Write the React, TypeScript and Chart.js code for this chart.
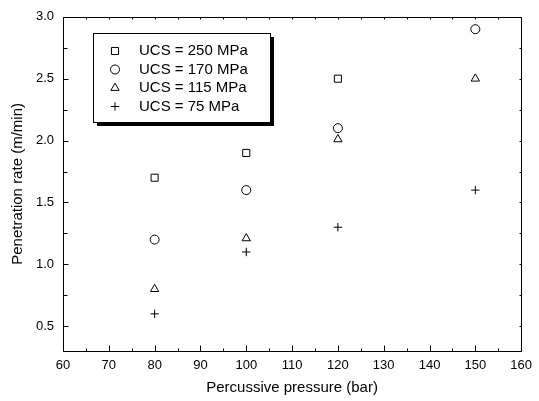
import React, { useEffect, useRef } from "react";
import { Chart, registerables } from "chart.js";

Chart.register(...registerables);

const pressures = [80, 100, 120, 150];
const ucs250 = [1.7, 1.9, 2.5, null];
const ucs170 = [1.2, 1.6, 2.1, 2.9];
const ucs115 = [0.8, 1.21, 2.01, 2.5];
const ucs75 = [0.6, 1.1, 1.3, 1.6];
const seriesLabels = ["UCS = 250 MPa", "UCS = 170 MPa", "UCS = 115 MPa", "UCS = 75 MPa"];
const xTicks = [60, 70, 80, 90, 100, 110, 120, 130, 140, 150, 160];
const yTicks = [0.5, 1.0, 1.5, 2.0, 2.5, 3.0];

const FONT = "'Liberation Sans', Arial, sans-serif";
const styles = ["rect", "circle", "triangle", "cross"];
const radii = [5, 4.5, 4.8, 4.2];

function toPoints(vals: (number | null)[]) {
  const out: { x: number; y: number }[] = [];
  vals.forEach((v, i) => {
    if (v !== null) out.push({ x: pressures[i], y: v });
  });
  return out;
}

function drawSymbol(ctx: CanvasRenderingContext2D, style: string, r: number, x: number, y: number) {
  ctx.beginPath();
  if (style === "rect") {
    const s = r * Math.SQRT1_2;
    ctx.rect(x - s, y - s, 2 * s, 2 * s);
  } else if (style === "circle") {
    ctx.arc(x, y, r, 0, Math.PI * 2);
  } else if (style === "triangle") {
    const a = Math.PI / 2;
    ctx.moveTo(x + Math.sin(0) * r, y - Math.cos(0) * r);
    ctx.lineTo(x + Math.sin(2 * Math.PI / 3) * r, y - Math.cos(2 * Math.PI / 3) * r);
    ctx.lineTo(x + Math.sin(4 * Math.PI / 3) * r, y - Math.cos(4 * Math.PI / 3) * r);
    ctx.closePath();
    void a;
  } else {
    ctx.moveTo(x - r, y);
    ctx.lineTo(x + r, y);
    ctx.moveTo(x, y - r);
    ctx.lineTo(x, y + r);
  }
  ctx.stroke();
}

const framePlugin = {
  id: "frame",
  afterDraw(chart: any) {
    const { ctx, chartArea: a, scales } = chart;
    const xs = scales.x;
    const ys = scales.y;
    ctx.save();
    ctx.strokeStyle = "#000";
    ctx.lineWidth = 1;
    const L = Math.round(a.left) + 0.5;
    const R = Math.round(a.right) + 0.5;
    const T = Math.round(a.top) + 0.5;
    const B = Math.round(a.bottom) + 0.5;
    ctx.beginPath();
    ctx.rect(L, T, R - L, B - T);
    ctx.stroke();
    ctx.beginPath();
    for (let v = 60; v <= 160; v += 5) {
      const px = Math.round(xs.getPixelForValue(v)) + 0.5;
      const major = v % 10 === 0;
      ctx.moveTo(px, B);
      ctx.lineTo(px, B - (major ? 6 : 3));
      ctx.moveTo(px, T);
      ctx.lineTo(px, T + 2);
    }
    for (let v = 0.5; v <= 3.0001; v += 0.25) {
      const py = Math.round(ys.getPixelForValue(v)) + 0.5;
      const major = Math.abs(v * 2 - Math.round(v * 2)) < 1e-6;
      ctx.moveTo(L, py);
      ctx.lineTo(L + (major ? 5 : 4), py);
      ctx.moveTo(R, py);
      ctx.lineTo(R - 2, py);
    }
    ctx.stroke();

    // legend
    const bx = 93, by = 33, bw = 177, bh = 89;
    ctx.fillStyle = "#000";
    ctx.fillRect(bx + 4, by + 4, bw, bh);
    ctx.fillStyle = "#fff";
    ctx.fillRect(bx, by, bw, bh);
    ctx.strokeRect(bx + 0.5, by + 0.5, bw, bh);
    const rows = [51, 69.5, 88, 106.5];
    chart.data.datasets.forEach((ds: any, i: number) => {
      ctx.strokeStyle = "#000";
      ctx.lineWidth = 1;
      drawSymbol(ctx, ds.pointStyle, ds.pointRadius, 115, rows[i]);
      ctx.fillStyle = "#000";
      ctx.font = "15px " + FONT;
      ctx.textBaseline = "middle";
      ctx.textAlign = "left";
      ctx.fillText(seriesLabels[i], 139, rows[i]);
    });
    ctx.restore();
  },
};

export default function App() {
  const ref = useRef<HTMLCanvasElement>(null);
  useEffect(() => {
    const canvas = ref.current!;
    const seriesVals = [ucs250, ucs170, ucs115, ucs75];
    const chart = new Chart(canvas, {
      type: "scatter",
      data: {
        datasets: seriesVals.map((vals, i) => ({
          label: seriesLabels[i],
          data: toPoints(vals),
          pointStyle: styles[i] as any,
          pointRadius: radii[i],
          pointBorderColor: "#000",
          pointBackgroundColor: "rgba(0,0,0,0)",
          pointBorderWidth: 1,
          showLine: false,
        })),
      },
      options: {
        animation: false,
        responsive: true,
        maintainAspectRatio: false,
        layout: { padding: { top: 14, right: 17, left: 0, bottom: 0 } },
        plugins: { legend: { display: false }, tooltip: { enabled: false } },
        scales: {
          x: {
            type: "linear",
            min: 60,
            max: 160,
            grid: { display: false, drawTicks: false },
            border: { display: false },
            afterFit: (s: any) => { s.height = 50; },
            afterBuildTicks: (s: any) => { s.ticks = xTicks.map((v) => ({ value: v })); },
            ticks: { padding: 7, color: "#000", font: { family: FONT, size: 13 }, callback: (v: any) => String(v) },
            title: { display: true, text: "Percussive pressure (bar)", color: "#000", font: { family: FONT, size: 15 }, padding: { top: 0, bottom: 4 } },
          },
          y: {
            type: "linear",
            min: 0.3,
            max: 3.0,
            grid: { display: false, drawTicks: false },
            border: { display: false },
            afterFit: (s: any) => { s.width = 63; },
            afterBuildTicks: (s: any) => { s.ticks = yTicks.map((v) => ({ value: v })); },
            ticks: { padding: 9, color: "#000", font: { family: FONT, size: 13 }, callback: (v: any) => Number(v).toFixed(1) },
            title: { display: true, text: "Penetration rate (m/min)", color: "#000", font: { family: FONT, size: 15 }, padding: { top: 9, bottom: 0 } },
          },
        },
      },
      plugins: [framePlugin],
    });
    return () => chart.destroy();
  }, []);
  return (
    <div style={{ position: "fixed", left: 0, top: 0, width: 539, height: 401, background: "#fff" }}>
      <canvas ref={ref} />
    </div>
  );
}
